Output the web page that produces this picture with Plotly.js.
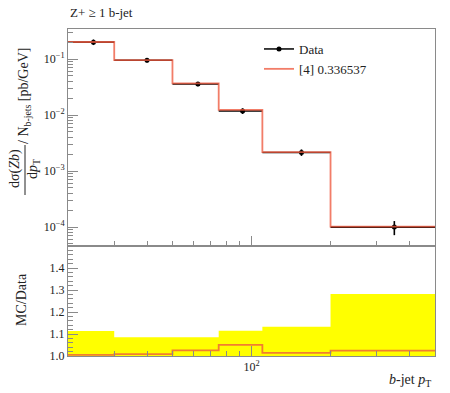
<!DOCTYPE html>
<html>
<head>
<meta charset="utf-8">
<script src="https://cdn.plot.ly/plotly-3.0.1.min.js"></script>
<style>html,body{margin:0;padding:0;background:#fff;}#plot{width:450px;height:393px;}</style>
</head>
<body>
<div id="plot"></div>
<script>
// ---- data ----
const binEdges   = [20, 30, 50, 75, 110, 200, 500];
const binCenters = [25, 40, 62.5, 92.5, 155, 350];
const dataValues = [0.200, 0.0948, 0.0358, 0.0118, 0.00215, 1.00e-4];
const dataRelErr = [0.114, 0.085, 0.085, 0.115, 0.133, 0.282];
const mcValues   = [0.201, 0.0956, 0.0367, 0.0124, 0.00218, 1.024e-4];
const mcLabel    = "[4] 0.336537";
const dataLabel  = "Data";
const yMainTicks = [1e-4, 1e-3, 1e-2, 1e-1];
const yMainTickText = ["10<sup>\u22124</sup>", "10<sup>\u22123</sup>", "10<sup>\u22122</sup>", "10<sup>\u22121</sup>"];
const yRatioTicks = [1.0, 1.1, 1.2, 1.3, 1.4];
const yRatioTickText = ["1.0", "1.1", "1.2", "1.3", "1.4"];
const xMajorTicks = [100];
const xMajorTickText = ["10<sup>2</sup>"];

// ---- derived ----
const xErrPlus  = binCenters.map((c, i) => binEdges[i + 1] - c);
const xErrMinus = binCenters.map((c, i) => c - binEdges[i]);
const yErr = dataValues.map((v, i) => v * dataRelErr[i]);
const stepY = (arr) => arr.concat([arr[arr.length - 1]]);
const ratio = mcValues.map((m, i) => m / dataValues[i]);
const bandUp = dataRelErr.map(e => 1 + e);
const bandLo = dataRelErr.map(e => 1 - e);

const xMinor = [30, 40, 50, 60, 70, 80, 90, 200, 300, 400];
const yMinor = [];
for (let d = -5; d <= 0; d++) for (let k = 2; k <= 9; k++) yMinor.push(k * Math.pow(10, d));
const yRatioMinor = [];
for (let v = 1.0; v < 1.5; v += 0.02) yRatioMinor.push(+v.toFixed(2));

const mcColor = "rgba(238,88,62,0.78)";
const serif = "Liberation Serif, DejaVu Serif, serif";
const axisGrey = "#8a8a8a";

const traces = [
  { // data points
    x: binCenters, y: dataValues, type: "scatter", mode: "markers",
    marker: {color: "black", size: 5},
    error_x: {type: "data", symmetric: false, array: xErrPlus, arrayminus: xErrMinus, width: 0, thickness: 1.6, color: "black"},
    error_y: {type: "data", array: yErr, width: 0, thickness: 1.6, color: "black"},
    xaxis: "x", yaxis: "y", showlegend: false, hoverinfo: "skip"
  },
  { // legend entry for data
    x: [null], y: [null], type: "scatter", mode: "lines+markers", name: dataLabel,
    line: {color: "black", width: 1.5}, marker: {color: "black", size: 5},
    xaxis: "x", yaxis: "y", showlegend: true
  },
  { // MC histogram
    x: binEdges, y: stepY(mcValues), type: "scatter", mode: "lines", name: mcLabel,
    line: {shape: "hv", color: mcColor, width: 1.8},
    xaxis: "x", yaxis: "y", showlegend: true, hoverinfo: "skip"
  },
  { // band lower
    x: binEdges, y: stepY(bandLo), type: "scatter", mode: "lines",
    line: {shape: "hv", width: 0, color: "rgba(0,0,0,0)"},
    xaxis: "x2", yaxis: "y2", showlegend: false, hoverinfo: "skip"
  },
  { // band upper
    x: binEdges, y: stepY(bandUp), type: "scatter", mode: "lines", fill: "tonexty",
    fillcolor: "#ffff00",
    line: {shape: "hv", width: 0, color: "rgba(0,0,0,0)"},
    xaxis: "x2", yaxis: "y2", showlegend: false, hoverinfo: "skip"
  },
  { // ratio
    x: binEdges, y: stepY(ratio), type: "scatter", mode: "lines",
    line: {shape: "hv", color: mcColor, width: 1.8},
    xaxis: "x2", yaxis: "y2", showlegend: false, hoverinfo: "skip"
  }
];

const W = 367, H = 327, L = 68, T = 29;
const px = (x) => (x - L) / W;
const py = (y) => (T + H - y) / H;
const split = py(246);

const common = {showline: true, linecolor: axisGrey, linewidth: 1, mirror: true, showgrid: false, zeroline: false,
  ticks: "inside", tickcolor: axisGrey, tickwidth: 1, ticklen: 10, tickfont: {family: serif, size: 12, color: "#222"}};

const layout = {
  width: 450, height: 393,
  margin: {l: L, r: 450 - L - W, t: T, b: 393 - T - H},
  paper_bgcolor: "white", plot_bgcolor: "white",
  showlegend: true,
  legend: {x: px(259), y: py(34), xanchor: "left", yanchor: "top", bgcolor: "rgba(0,0,0,0)", traceorder: "normal",
    font: {family: serif, size: 13, color: "#222"}, tracegroupgap: 0},
  xaxis: Object.assign({}, common, {type: "log", range: [Math.log10(20), Math.log10(500)], domain: [0, 1], anchor: "y",
    tickmode: "array", tickvals: xMajorTicks, showticklabels: false,
    minor: {tickmode: "array", tickvals: xMinor, ticks: "inside", ticklen: 5, tickcolor: axisGrey}}),
  yaxis: Object.assign({}, common, {type: "log", range: [Math.log10(4.6e-5), Math.log10(0.343)], domain: [split, 1], anchor: "x",
    tickmode: "array", tickvals: yMainTicks, ticktext: yMainTickText,
    minor: {tickmode: "array", tickvals: yMinor, ticks: "inside", ticklen: 5, tickcolor: axisGrey}}),
  xaxis2: Object.assign({}, common, {type: "log", range: [Math.log10(20), Math.log10(500)], domain: [0, 1], anchor: "y2", matches: "x",
    tickmode: "array", tickvals: xMajorTicks, ticktext: xMajorTickText,
    minor: {tickmode: "array", tickvals: xMinor, ticks: "inside", ticklen: 5, tickcolor: axisGrey}}),
  yaxis2: Object.assign({}, common, {range: [1.0, 1.5], domain: [0, split], anchor: "x2",
    tickmode: "array", tickvals: yRatioTicks, ticktext: yRatioTickText,
    minor: {tickmode: "array", tickvals: yRatioMinor, ticks: "inside", ticklen: 5, tickcolor: axisGrey}}),
  annotations: [
    {text: "Z+ \u2265 1 b-jet", xref: "paper", yref: "paper", x: 0, y: py(13), xanchor: "left", yanchor: "middle",
      showarrow: false, font: {family: serif, size: 13, color: "#222"}},
    {text: "d\u03c3(<i>Zb</i>)", xref: "paper", yref: "paper", x: px(15), y: py(169), textangle: -90,
      xanchor: "center", yanchor: "middle", showarrow: false, font: {family: serif, size: 14, color: "#222"}},
    {text: "d<i>p</i><sub>T</sub>", xref: "paper", yref: "paper", x: px(34), y: py(169), textangle: -90,
      xanchor: "center", yanchor: "middle", showarrow: false, font: {family: serif, size: 14, color: "#222"}},
    {text: "/ N<sub>b-jets</sub> [pb/GeV]", xref: "paper", yref: "paper", x: px(24), y: py(96), textangle: -90,
      xanchor: "center", yanchor: "middle", showarrow: false, font: {family: serif, size: 14, color: "#222"}},
    {text: "MC/Data", xref: "paper", yref: "paper", x: px(21), y: py(300), textangle: -90,
      xanchor: "center", yanchor: "middle", showarrow: false, font: {family: serif, size: 14, color: "#222"}},
    {text: "<i>b</i>-jet <i>p</i><sub>T</sub>", xref: "paper", yref: "paper", x: px(433), y: py(381),
      xanchor: "right", yanchor: "middle", showarrow: false, font: {family: serif, size: 14, color: "#222"}}
  ],
  shapes: [
    {type: "line", xref: "paper", yref: "paper", x0: px(25), x1: px(25), y0: py(145), y1: py(195),
      line: {color: "#222", width: 1}}
  ]
};

Plotly.newPlot("plot", traces, layout, {staticPlot: true, displayModeBar: false});
</script>
</body>
</html>
